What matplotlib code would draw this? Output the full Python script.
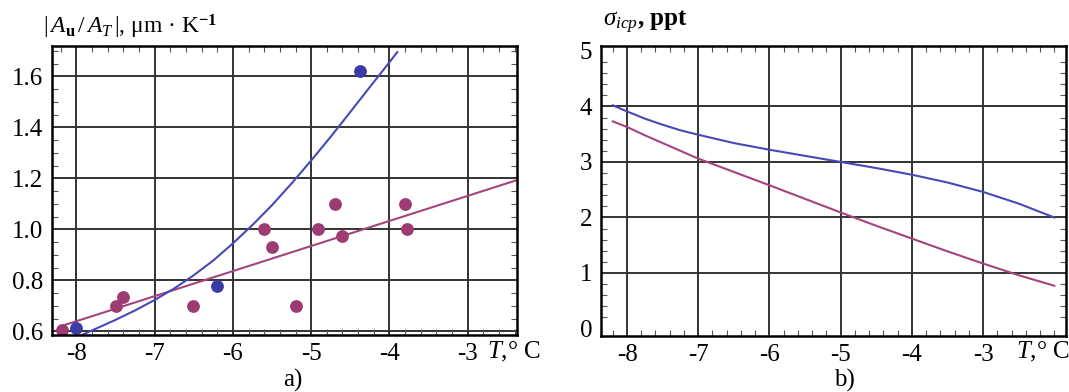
import numpy as np
import matplotlib.pyplot as plt
from matplotlib.ticker import MultipleLocator, FormatStrFormatter

plt.rcParams['font.family'] = ['Liberation Serif', 'DejaVu Serif']
plt.rcParams['mathtext.fontset'] = 'custom'
plt.rcParams['mathtext.rm'] = 'Liberation Serif'
plt.rcParams['mathtext.it'] = 'Liberation Serif:italic'
plt.rcParams['mathtext.bf'] = 'Liberation Serif:bold'
plt.rcParams['axes.unicode_minus'] = False

BLUE = '#3b3ba8'
MAGENTA = '#9c3c72'
BLUE_LINE = '#4848b8'
MAGENTA_LINE = '#a4447c'

# a) measured points
t_mag = [-8.19, -7.50, -7.41, -6.51, -5.60, -5.50, -5.20, -4.91, -4.70, -4.61, -3.80, -3.77]
a_mag = [0.605, 0.700, 0.733, 0.700, 1.003, 0.930, 0.700, 1.003, 1.100, 0.973, 1.100, 1.000]
t_blue = [-8.00, -6.20, -4.37]
a_blue = [0.612, 0.776, 1.620]

# a) fitted curves
t_fit_mag = [-8.20, -2.38]
a_fit_mag = [0.620, 1.192]
t_fit_blue = [-7.92, -7.50, -7.25, -7.00, -6.75, -6.50, -6.25, -6.00, -5.75, -5.50,
              -5.25, -5.00, -4.75, -4.50, -4.25, -4.00, -3.90]
a_fit_blue = [0.587, 0.645, 0.682, 0.723, 0.768, 0.820, 0.878, 0.945, 1.017, 1.095,
              1.180, 1.270, 1.363, 1.460, 1.558, 1.655, 1.695]

# b) sigma curves
t_sig = [-8.20, -8.00, -7.75, -7.50, -7.25, -7.00, -6.50, -6.00, -5.50, -5.00,
         -4.50, -4.00, -3.50, -3.00, -2.50, -2.00]
s_blue = [4.02, 3.91, 3.78, 3.67, 3.57, 3.49, 3.34, 3.22, 3.11, 3.00,
          2.89, 2.77, 2.63, 2.46, 2.25, 2.00]
s_mag = [3.73, 3.63, 3.48, 3.34, 3.20, 3.06, 2.82, 2.58, 2.335, 2.09,
         1.85, 1.62, 1.39, 1.17, 0.96, 0.77]

x_ticks = [-8, -7, -6, -5, -4, -3]
a_ticks = [0.6, 0.8, 1.0, 1.2, 1.4, 1.6]
s_ticks = [0, 1, 2, 3, 4, 5]
s_grid = [1, 2, 3, 4]

fig = plt.figure(figsize=(10.69, 3.92), dpi=100)
ax1 = fig.add_axes([0.0484, 0.1464, 0.4348, 0.735])
ax2 = fig.add_axes([0.5619, 0.1436, 0.4356, 0.740])


def frame(ax, xgrid, ygrid, xminor, yminor):
    for v in xgrid:
        ax.axvline(v, color='#333333', lw=1.4, zorder=1)
    for v in ygrid:
        ax.axhline(v, color='#333333', lw=1.4, zorder=1)
    for s in ax.spines.values():
        s.set_linewidth(1.8)
        s.set_zorder(5)
    ax.xaxis.set_minor_locator(MultipleLocator(xminor))
    ax.yaxis.set_minor_locator(MultipleLocator(yminor))
    ax.tick_params(which='both', direction='in', top=True, right=True,
                   color='#555555', labelsize=18)
    ax.tick_params(which='major', length=0, pad=6)
    ax.tick_params(which='minor', length=4, width=0.8)


# a)
frame(ax1, x_ticks, a_ticks, 0.2, 0.05)
ax1.plot(t_fit_mag, a_fit_mag, color=MAGENTA_LINE, lw=1.5, zorder=3)
ax1.plot(t_fit_blue, a_fit_blue, color=BLUE_LINE, lw=1.5, zorder=3)
ax1.scatter(t_mag, a_mag, s=85, color=MAGENTA, zorder=4, linewidths=0)
ax1.scatter(t_blue, a_blue, s=85, color=BLUE, zorder=4, linewidths=0)
ax1.set_xlim(-8.316, -2.375)
ax1.set_ylim(0.587, 1.717)
ax1.set_xticks(x_ticks)
ax1.set_yticks(a_ticks)
ax1.yaxis.set_major_formatter(FormatStrFormatter('%.1f'))

# b)
frame(ax2, x_ticks, s_grid, 0.2, 0.2)
ax2.plot(t_sig, s_blue, color=BLUE_LINE, lw=1.5, zorder=3)
ax2.plot(t_sig, s_mag, color=MAGENTA_LINE, lw=1.5, zorder=3)
ax2.set_xlim(-8.37, -1.83)
ax2.set_ylim(-0.13, 5.095)
ax2.set_xticks(x_ticks)
ax2.set_yticks(s_ticks)

# axis captions
fig.text(0.040, 0.931, r'$|\,A_{\mathbf{u}}\,/\,A_T\,|$, μm · K$^{\mathbf{-1}}$',
         fontsize=17, ha='left', va='center')
fig.text(0.564, 0.944, r'$\sigma_{icp}$, ppt', fontsize=18, ha='left', va='center',
         fontweight='bold')
fig.text(0.4556, 0.102, r'$T$,° C', fontsize=18, ha='left', va='center')
fig.text(0.950, 0.102, r'$T$,° C', fontsize=18, ha='left', va='center')
fig.text(0.274, 0.03, 'a)', fontsize=18, ha='center', va='center')
fig.text(0.790, 0.03, 'b)', fontsize=18, ha='center', va='center')

fig.savefig('out.png', dpi=100)
